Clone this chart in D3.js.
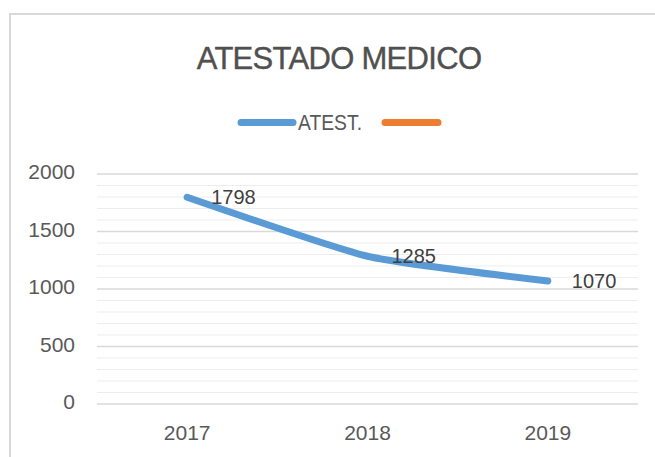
<!DOCTYPE html>
<html>
<head>
<meta charset="utf-8">
<script src="https://cdn.jsdelivr.net/npm/d3@7"></script>
<style>
  body { margin: 0; background: #fff; }
  svg { display: block; font-family: "Liberation Sans", Arial, sans-serif; }
</style>
</head>
<body>
<div id="chart"></div>
<script>
const years = ["2017", "2018", "2019"];
const atestValues = [1798, 1285, 1070];
const majorTicks = [0, 500, 1000, 1500, 2000];
const seriesNames = ["ATEST.", ""];
const seriesColors = ["#5b9bd5", "#ed7d31"];

const width = 655, height = 457;
const plot = { left: 97, right: 638, top: 174, bottom: 404 };

const svg = d3.select("#chart").append("svg")
    .attr("width", width)
    .attr("height", height);

// chart frame (continues past the right/bottom edges of the crop)
svg.append("rect")
    .attr("x", 10).attr("y", 14)
    .attr("width", 700).attr("height", 500)
    .attr("fill", "#fff")
    .attr("stroke", "#d9d9d9")
    .attr("stroke-width", 2);

const x = d3.scaleBand().domain(years).range([plot.left, plot.right]);
const y = d3.scaleLinear().domain([0, 2000]).range([plot.bottom, plot.top]);
const cx = d => x(d) + x.bandwidth() / 2;

// minor gridlines every 100
const minorTicks = d3.range(0, 2001, 100).filter(v => v % 500 !== 0);
svg.append("g")
    .selectAll("line")
    .data(minorTicks)
    .join("line")
    .attr("x1", plot.left).attr("x2", plot.right)
    .attr("y1", d => y(d)).attr("y2", d => y(d))
    .attr("stroke", "#ededed")
    .attr("stroke-width", 1.2);

svg.append("g")
    .selectAll("line")
    .data(majorTicks)
    .join("line")
    .attr("x1", plot.left).attr("x2", plot.right)
    .attr("y1", d => y(d)).attr("y2", d => y(d))
    .attr("stroke", "#d9d9d9")
    .attr("stroke-width", 1.6);

// axes
const yAxis = svg.append("g")
    .attr("transform", `translate(${plot.left},0)`)
    .call(d3.axisLeft(y).tickValues(majorTicks).tickFormat(d3.format("d"))
        .tickSize(0).tickPadding(22));
const xAxis = svg.append("g")
    .attr("transform", `translate(0,${plot.bottom})`)
    .call(d3.axisBottom(x).tickSize(0).tickPadding(21));

[yAxis, xAxis].forEach(g => {
    g.select(".domain").remove();
    g.selectAll("text")
        .attr("fill", "#595959")
        .style("font-size", "21px")
        .style("font-family", "'Liberation Sans', Arial, sans-serif");
});
yAxis.selectAll("text").attr("dy", "0.22em");

// title
svg.append("text")
    .attr("x", 339).attr("y", 69)
    .attr("text-anchor", "middle")
    .attr("fill", "#505050")
    .style("font-size", "31px")
    .style("letter-spacing", "-0.7px")
    .style("stroke", "#505050")
    .style("stroke-width", 0.4)
    .text("ATESTADO MEDICO");

// legend
const legendY = 122.5;
const legend = svg.append("g");
legend.append("line")
    .attr("x1", 241).attr("x2", 293)
    .attr("y1", legendY).attr("y2", legendY)
    .attr("stroke", seriesColors[0]).attr("stroke-width", 7)
    .attr("stroke-linecap", "round");
legend.append("text")
    .attr("x", 298).attr("y", 129.5)
    .attr("fill", "#595959")
    .attr("textLength", 64)
    .attr("lengthAdjust", "spacingAndGlyphs")
    .style("font-size", "22px")
    .text(seriesNames[0]);
legend.append("line")
    .attr("x1", 385).attr("x2", 438)
    .attr("y1", legendY).attr("y2", legendY)
    .attr("stroke", seriesColors[1]).attr("stroke-width", 7)
    .attr("stroke-linecap", "round");

// series line
const line = d3.line()
    .x((d, i) => cx(years[i]))
    .y(d => y(d))
    .curve(d3.curveCardinal.tension(0.5));

svg.append("path")
    .datum(atestValues)
    .attr("d", line)
    .attr("fill", "none")
    .attr("stroke", seriesColors[0])
    .attr("stroke-width", 7)
    .attr("stroke-linecap", "round")
    .attr("stroke-linejoin", "round");

// data labels
svg.append("g")
    .selectAll("text")
    .data(atestValues)
    .join("text")
    .attr("x", (d, i) => cx(years[i]) + 24)
    .attr("y", d => y(d))
    .attr("dy", "0.33em")
    .attr("fill", "#404040")
    .style("font-size", "20px")
    .text(d => d);
</script>
</body>
</html>
